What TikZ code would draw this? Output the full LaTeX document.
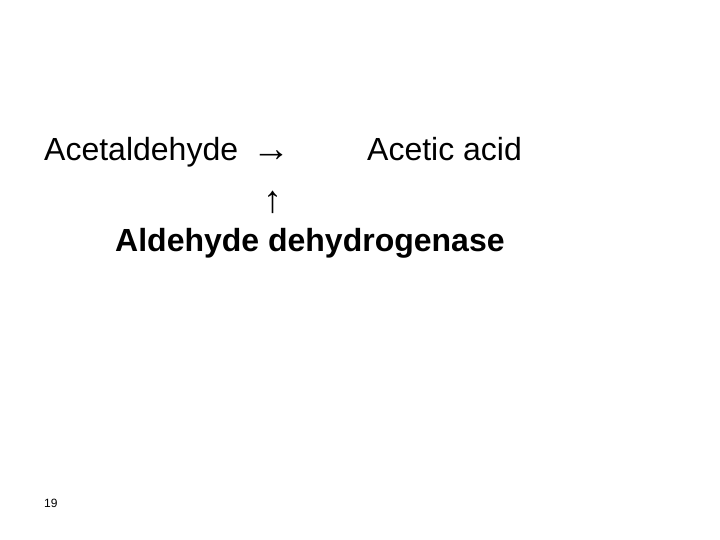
\documentclass[tikz,border=0pt]{standalone}
\usepackage{fontspec}
\setmainfont{Liberation Sans}
\usepackage{tikz}

\begin{document}
\begin{tikzpicture}[x=1pt, y=1pt,
    big/.style={anchor=base west, inner sep=0pt, font=\fontsize{32}{38}\selectfont},
    glyph/.style={anchor=base, inner sep=0pt, font=\fontsize{38}{44}\selectfont}]
                \useasboundingbox (0,0) rectangle (720,540);
                \node[big] (acetaldehyde) at (44,379) {Acetaldehyde};
                \node[glyph] (toarrow) at (271,378) {→};
                \node[big] (aceticacid) at (367,379) {Acetic acid};
                \node[glyph] (uparrow) at (273,327) {↑};
                \node[big, font=\fontsize{32}{38}\selectfont\bfseries] (enzyme) at (115,288) {Aldehyde dehydrogenase};
                \node[anchor=base west, inner sep=0pt, font=\fontsize{12}{14}\selectfont] (pagenum) at (44,32) {19};
            \end{tikzpicture}
\end{document}
